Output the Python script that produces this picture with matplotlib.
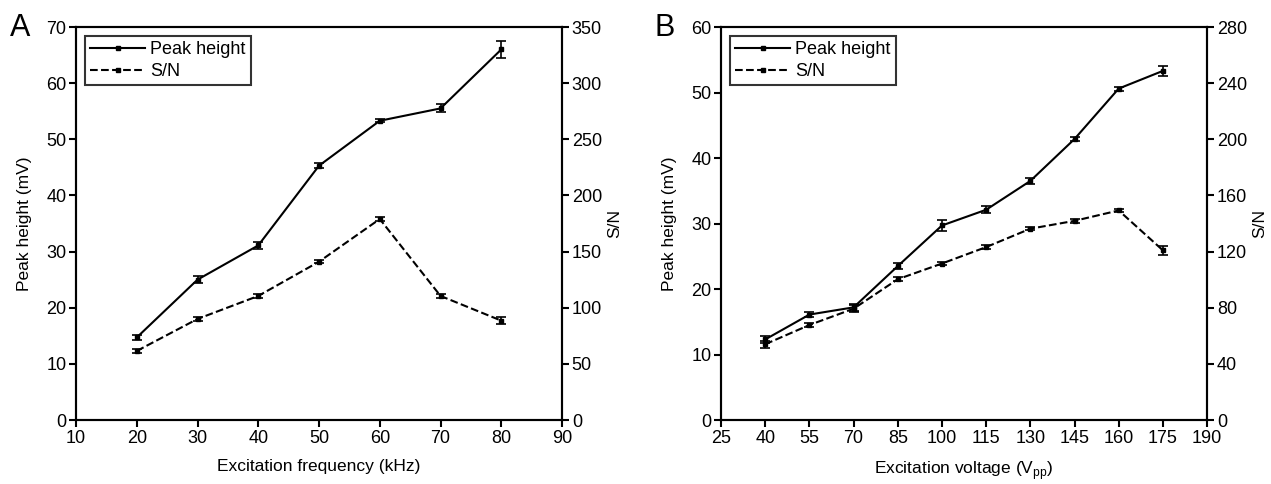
import numpy as np
import matplotlib
matplotlib.use('Agg')
import matplotlib.pyplot as plt
from matplotlib.lines import Line2D

plt.rcParams['font.family'] = ['Liberation Sans', 'DejaVu Sans']
plt.rcParams['font.size'] = 12

# Panel A: excitation frequency
freq = [20, 30, 40, 50, 60, 70, 80]
peak_a = [14.7, 25.0, 31.1, 45.3, 53.3, 55.5, 66.0]
peak_a_err = [0.5, 0.6, 0.6, 0.4, 0.3, 0.7, 1.5]
sn_a = [61.5, 90.0, 110.5, 141.0, 179.0, 110.5, 88.5]
sn_a_err = [1.5, 1.5, 1.5, 1.5, 1.5, 2.0, 3.0]

# Panel B: excitation voltage
volt = [40, 55, 70, 85, 100, 115, 130, 145, 160, 175]
peak_b = [12.3, 16.1, 17.2, 23.5, 29.7, 32.1, 36.5, 42.9, 50.6, 53.3]
peak_b_err = [0.5, 0.4, 0.5, 0.5, 0.8, 0.5, 0.4, 0.3, 0.3, 0.8]
sn_b = [54.0, 67.7, 79.3, 100.3, 111.5, 123.2, 136.3, 141.9, 149.3, 120.9]
sn_b_err = [2.5, 1.5, 2.5, 1.5, 1.2, 1.5, 1.0, 1.2, 1.2, 3.0]

fig = plt.figure(figsize=(12.71, 4.84), dpi=100)


def panel(rect, letter, letter_x, x, peak, peak_err, sn, sn_err,
          xlim, xticks, ylim, yticks, y2lim, y2ticks, xlabel):
    ax = fig.add_axes(rect)
    ax2 = ax.twinx()
    kw = dict(color='black', lw=1.5, marker='s', ms=3.5,
              capsize=3.5, elinewidth=1.2, capthick=1.2)
    ax.errorbar(x, peak, yerr=peak_err, ls='-', **kw)
    ax2.errorbar(x, sn, yerr=sn_err, ls='--', **kw)
    ax.set_xlim(*xlim)
    ax.set_xticks(xticks)
    ax.set_ylim(*ylim)
    ax.set_yticks(yticks)
    ax2.set_ylim(*y2lim)
    ax2.set_yticks(y2ticks)
    for a in (ax, ax2):
        for s in a.spines.values():
            s.set_linewidth(1.5)
        a.tick_params(direction='out', length=5, width=1.5, labelsize=13, pad=2)
    ax.set_xlabel(xlabel, fontsize=12.5, labelpad=9)
    ax.set_ylabel('Peak height (mV)', fontsize=12.5, labelpad=10)
    ax2.set_ylabel('S/N', fontsize=12.5, labelpad=4)
    handles = [Line2D([], [], color='black', lw=1.5, ls='-', marker='s', ms=3.5),
               Line2D([], [], color='black', lw=1.5, ls='--', marker='s', ms=3.5)]
    leg = ax.legend(handles, ['Peak height', 'S/N'], loc='upper left', fontsize=13,
                    frameon=True, fancybox=False, handlelength=3.0,
                    handletextpad=0.3, borderpad=0.3, labelspacing=0.25,
                    borderaxespad=0.5)
    leg.get_frame().set_edgecolor('black')
    leg.get_frame().set_linewidth(1.5)
    fig.text(letter_x, 1 - 36 / 484, letter, fontsize=22, ha='left', va='baseline')
    return ax


panel([0.0598, 0.1322, 0.3824, 0.812], 'A', 0.008, freq, peak_a, peak_a_err,
      sn_a, sn_a_err, (10, 90), range(10, 91, 10), (0, 70), range(0, 71, 10),
      (0, 350), range(0, 351, 50), 'Excitation frequency (kHz)')

panel([0.5673, 0.1322, 0.3824, 0.812], 'B', 0.5153, volt, peak_b, peak_b_err,
      sn_b, sn_b_err, (25, 190), range(25, 191, 15), (0, 60), range(0, 61, 10),
      (0, 280), range(0, 281, 40), r'Excitation voltage (V$_{\mathregular{pp}}$)')

fig.savefig('out.png', dpi=100)
